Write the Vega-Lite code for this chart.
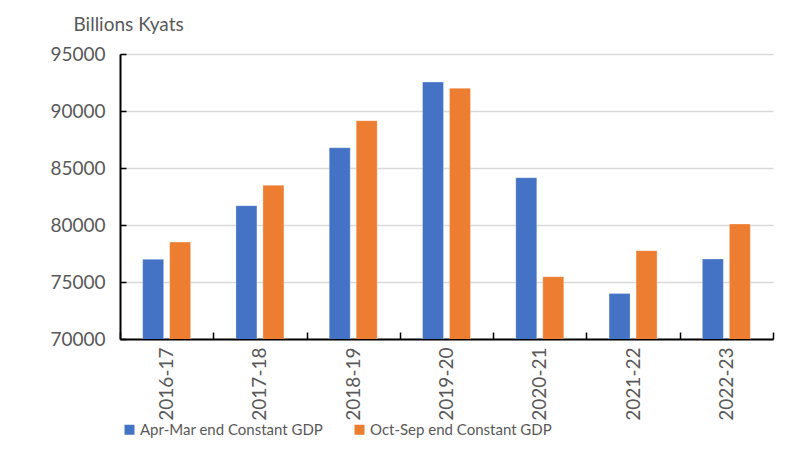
{
  "$schema": "https://vega.github.io/schema/vega-lite/v6.json",
  "width": 653,
  "height": 285,
  "autosize": {"type": "none"},
  "padding": {"left": 120, "top": 54, "right": 12, "bottom": 126},
  "background": "white",
  "config": {
    "font": "Lato",
    "view": {"stroke": null},
    "axis": {"labelColor": "#595959", "titleColor": "#595959", "labelFont": "Lato", "titleFont": "Lato"}
  },
  "data": {
    "values": [
      {"year": "2016-17", "series": "Apr-Mar end Constant GDP", "gdp": 76990},
      {"year": "2016-17", "series": "Oct-Sep end Constant GDP", "gdp": 78500},
      {"year": "2017-18", "series": "Apr-Mar end Constant GDP", "gdp": 81690},
      {"year": "2017-18", "series": "Oct-Sep end Constant GDP", "gdp": 83480},
      {"year": "2018-19", "series": "Apr-Mar end Constant GDP", "gdp": 86780},
      {"year": "2018-19", "series": "Oct-Sep end Constant GDP", "gdp": 89150},
      {"year": "2019-20", "series": "Apr-Mar end Constant GDP", "gdp": 92540},
      {"year": "2019-20", "series": "Oct-Sep end Constant GDP", "gdp": 91990},
      {"year": "2020-21", "series": "Apr-Mar end Constant GDP", "gdp": 84150},
      {"year": "2020-21", "series": "Oct-Sep end Constant GDP", "gdp": 75470},
      {"year": "2021-22", "series": "Apr-Mar end Constant GDP", "gdp": 74000},
      {"year": "2021-22", "series": "Oct-Sep end Constant GDP", "gdp": 77750},
      {"year": "2022-23", "series": "Apr-Mar end Constant GDP", "gdp": 77020},
      {"year": "2022-23", "series": "Oct-Sep end Constant GDP", "gdp": 80090}
    ]
  },
  "mark": {"type": "bar", "clip": true, "stroke": "white", "strokeWidth": 0.5, "strokeOpacity": 0.6},
  "encoding": {
    "x": {
      "field": "year",
      "type": "nominal",
      "scale": {"paddingInner": 0, "paddingOuter": 0},
      "axis": {
        "title": null,
        "labelAngle": -90,
        "labelFontSize": 19,
        "labelPadding": 15,
        "domainColor": "black",
        "domainWidth": 2,
        "tickColor": "black",
        "tickWidth": 1.5,
        "tickSize": -7,
        "tickBand": "extent"
      }
    },
    "xOffset": {"field": "series", "scale": {"paddingInner": 0.222, "paddingOuter": 0.839}},
    "y": {
      "field": "gdp",
      "type": "quantitative",
      "scale": {"domain": [70000, 95000], "zero": false, "nice": false},
      "axis": {
        "values": [70000, 75000, 80000, 85000, 90000, 95000],
        "format": "d",
        "labelFontSize": 19,
        "labelPadding": 21,
        "domain": true,
        "domainColor": "black",
        "domainWidth": 2,
        "tickColor": "black",
        "tickWidth": 1.5,
        "tickSize": -6,
        "gridColor": "#d9d9d9",
        "gridWidth": 1.5,
        "title": "Billions Kyats",
        "titleAngle": 0,
        "titleAlign": "left",
        "titleBaseline": "alphabetic",
        "titleFontWeight": "normal",
        "titleFontSize": 19,
        "titleX": -47,
        "titleY": -24
      }
    },
    "color": {
      "field": "series",
      "type": "nominal",
      "scale": {"range": ["#4472c4", "#ed7d31"]},
      "legend": {
        "title": null,
        "orient": "none",
        "legendX": 2,
        "legendY": 368,
        "direction": "horizontal",
        "symbolType": "square",
        "symbolSize": 100,
        "symbolStrokeWidth": 0,
        "labelFontSize": 15,
        "labelColor": "#595959",
        "labelFont": "Lato",
        "labelLimit": 0,
        "labelOffset": 3,
        "columnPadding": 28
      }
    }
  }
}
